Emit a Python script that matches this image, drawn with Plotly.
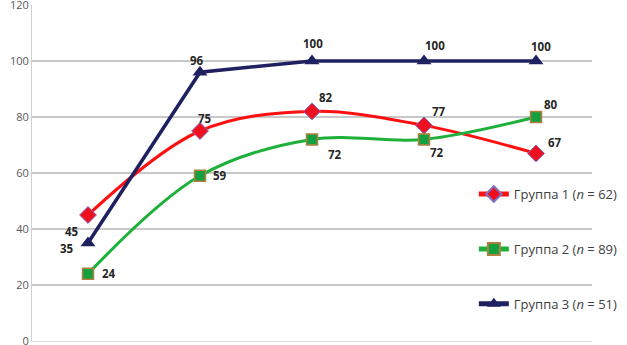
import plotly.graph_objects as go

categories = ["1", "2", "3", "4", "5"]
group1 = [45, 75, 82, 77, 67]
group2 = [24, 59, 72, 72, 80]
group3 = [35, 96, 100, 100, 100]
names = ["Группа 1 (<i>n</i> = 62)", "Группа 2 (<i>n</i> = 89)", "Группа 3 (<i>n</i> = 51)"]
y_ticks = [0, 20, 40, 60, 80, 100, 120]

# label offsets in pixels (dx right, dy down) relative to each point
off1 = [(-16, 16), (5, -13), (14, -14), (15, -14), (19, -11)]
off2 = [(21, 0), (20, 0), (23, 15), (13, 13), (15, -13)]
off3 = [(-21, 5), (-3, -12), (1, -18), (11, -16), (5, -15)]

label_font = dict(family="Open Sans", size=11.5, color="#262626", weight="bold")

fig = go.Figure()
fig.add_trace(go.Scatter(
    x=categories, y=group1, name=names[0], mode="lines+markers",
    line=dict(color="#FF1010", width=3, shape="spline", smoothing=1),
    marker=dict(symbol="diamond", size=13, color="#EE1020", line=dict(color="#8070C0", width=1)),
    legendgroup="g1"))
fig.add_trace(go.Scatter(
    x=categories, y=group2, name=names[1], mode="lines+markers",
    line=dict(color="#1DB03A", width=3, shape="spline", smoothing=1),
    marker=dict(symbol="square", size=11, color="#15A040", line=dict(color="#B08040", width=1.5)),
    legendgroup="g2"))
fig.add_trace(go.Scatter(
    x=categories, y=group3, name=names[2], mode="lines+markers",
    line=dict(color="#1F2060", width=3.5),
    marker=dict(symbol="triangle-up", size=13, color="#1F2060"),
    legendgroup="g3"))

for vals, offs in [(group1, off1), (group2, off2), (group3, off3)]:
    for i, (v, (dx, dy)) in enumerate(zip(vals, offs)):
        fig.add_annotation(x=i, y=v, text=str(v), showarrow=False,
                           xshift=dx, yshift=-dy, font=label_font)

fig.update_layout(
    width=627, height=345,
    margin=dict(l=32, r=35, t=5, b=4),
    paper_bgcolor="white", plot_bgcolor="white",
    showlegend=True,
    legend=dict(x=0.789, y=0.482, xanchor="left", yanchor="top",
                bgcolor="rgba(0,0,0,0)", tracegroupgap=35, itemwidth=30,
                traceorder="grouped", itemsizing="constant",
                font=dict(family="Open Sans", size=13, color="#404040")),
    xaxis=dict(type="category", range=[-0.5, 4.5], showticklabels=False,
               showgrid=False, zeroline=False, showline=False, ticks="",
               automargin=False),
    yaxis=dict(range=[0, 120], tickvals=y_ticks, showgrid=True, gridcolor="#C8C8C8",
               gridwidth=1.5, zeroline=True, zerolinecolor="#D8D8D8", zerolinewidth=1,
               showline=True, linecolor="#D0D0D0", ticklabeloverflow="allow",
               linewidth=1, ticks="", ticklen=0, automargin=False,
               tickfont=dict(family="Open Sans", size=11, color="#595959")),
)

fig.write_html("out.html", config={"displayModeBar": False},
               post_script="document.body.style.margin='0';")
